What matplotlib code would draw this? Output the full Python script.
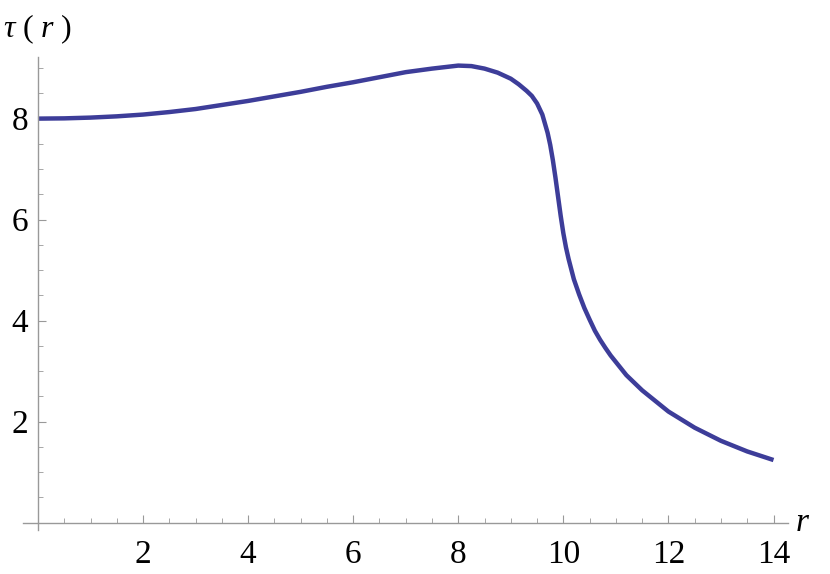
import matplotlib
matplotlib.use("Agg")
import matplotlib.pyplot as plt
from matplotlib.ticker import MultipleLocator

plt.rcParams['font.family'] = ['Liberation Serif', 'DejaVu Serif']
plt.rcParams['mathtext.fontset'] = 'custom'
plt.rcParams['mathtext.rm'] = 'Liberation Serif'
plt.rcParams['mathtext.it'] = 'Liberation Serif:italic'

# values
r = [0, 0.5, 1, 1.5, 2, 2.5, 3, 3.5, 4, 4.5, 5, 5.5, 6, 6.5, 7, 7.5, 8, 8.25,
     8.5, 8.75, 9, 9.15, 9.3, 9.4, 9.5, 9.6, 9.7, 9.75, 9.8, 9.85, 9.9, 9.95,
     10, 10.05, 10.1, 10.2, 10.3, 10.4, 10.5, 10.6, 10.7, 10.8, 10.9, 11.2,
     11.5, 12, 12.5, 13, 13.5, 14]
tau = [8.00, 8.005, 8.02, 8.045, 8.08, 8.13, 8.19, 8.27, 8.35, 8.44, 8.53,
       8.63, 8.72, 8.82, 8.92, 8.99, 9.05, 9.04, 8.99, 8.91, 8.79, 8.68, 8.55,
       8.45, 8.3, 8.08, 7.72, 7.48, 7.18, 6.83, 6.45, 6.07,
       5.73, 5.45, 5.22, 4.82, 4.52, 4.25, 4.02, 3.8, 3.62, 3.46, 3.31, 2.92,
       2.62, 2.2, 1.88, 1.62, 1.41, 1.24]

xticks = [2, 4, 6, 8, 10, 12, 14]
yticks = [2, 4, 6, 8]

fig = plt.figure(figsize=(8.3, 5.74), dpi=100)
ax = fig.add_axes([0.0277, 0.0767, 0.9217, 0.824])

ax.plot(r, tau, color='#3d3d99', lw=3.2, solid_capstyle='butt',
        solid_joinstyle='round')

ax.set_xlim(-0.285, 14.276)
ax.set_ylim(-0.145, 9.22)

axcol = '#999999'
for s in ['top', 'right']:
    ax.spines[s].set_visible(False)
for s in ['left', 'bottom']:
    ax.spines[s].set_position(('data', 0))
    ax.spines[s].set_color(axcol)
    ax.spines[s].set_linewidth(1.0)

ax.set_xticks(xticks)
ax.set_yticks(yticks)
ax.xaxis.set_minor_locator(MultipleLocator(0.5))
ax.yaxis.set_minor_locator(MultipleLocator(0.5))
ax.tick_params(which='major', direction='in', length=6, width=0.8, color=axcol,
               labelsize=24)
ax.tick_params(which='minor', direction='in', length=3.5, width=0.6, color=axcol)
ax.tick_params(axis='x', which='major', pad=12)
ax.tick_params(axis='y', which='major', pad=7)

fig.text(0.004, 0.935, r'$\tau\ (\ r\ )$', fontsize=23, ha='left', va='baseline')
fig.text(0.958, 0.075, r'$r$', fontsize=24, ha='left', va='baseline')

fig.savefig('out.png', dpi=100)
